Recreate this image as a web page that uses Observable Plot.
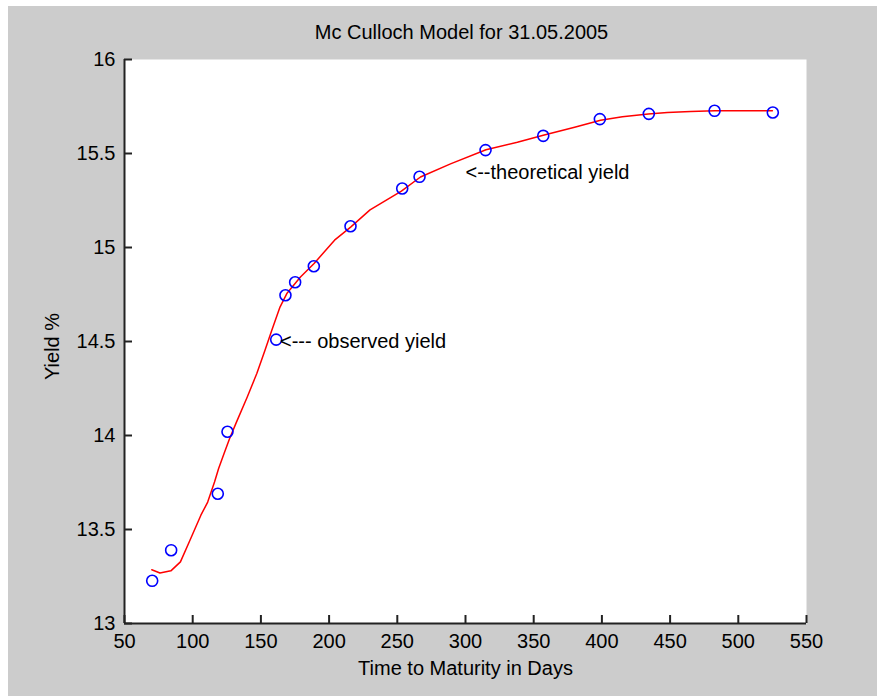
<!DOCTYPE html>
<html>
<head>
<meta charset="utf-8">
<script src="https://cdn.jsdelivr.net/npm/d3@7"></script>
<script src="https://cdn.jsdelivr.net/npm/@observablehq/plot@0.6"></script>
<style>
  html, body { margin: 0; padding: 0; background: #ffffff; }
  #chart { position: absolute; left: 8px; top: 6px; }
</style>
</head>
<body>
<div id="chart"></div>
<script>
// Observed yields of the bills (days to maturity, yield %)
const obsDays  = [70.3, 84.2, 118.4, 125.5, 161.2, 168.0, 175.1, 188.8, 215.7, 253.6, 266.3, 314.7, 357.0, 398.5, 434.4, 482.6, 525.3];
const obsYield = [13.227, 13.39, 13.69, 14.02, 14.51, 14.746, 14.815, 14.90, 15.113, 15.314, 15.376, 15.518, 15.594, 15.683, 15.711, 15.727, 15.718];

// Fitted McCulloch spline curve
const fitDays  = [70, 76, 84, 91, 98, 106, 111, 116, 119, 123, 127, 132, 140, 147, 153, 158, 164, 169, 179, 189, 204, 216, 230, 253, 267, 289, 315, 338, 357, 380, 399, 415, 434, 448, 465, 483, 500, 525];
const fitYield = [13.286, 13.269, 13.28, 13.328, 13.443, 13.576, 13.646, 13.753, 13.824, 13.904, 13.983, 14.07, 14.205, 14.33, 14.454, 14.56, 14.683, 14.755, 14.843, 14.915, 15.039, 15.11, 15.2, 15.30, 15.375, 15.445, 15.52, 15.56, 15.597, 15.64, 15.677, 15.695, 15.71, 15.718, 15.723, 15.727, 15.728, 15.727];

// Axis ticks
const xTicks = [50, 100, 150, 200, 250, 300, 350, 400, 450, 500, 550];
const yTicks = [13, 13.5, 14, 14.5, 15, 15.5, 16];

// Texts
const titleText = "Mc Culloch Model for 31.05.2005";
const xLabel = "Time to Maturity in Days";
const yLabel = "Yield %";
const noteDays  = [164, 300];
const noteYield = [14.5, 15.4];
const noteText  = ["<--- observed yield", "<--theoretical yield"];

const observed = obsDays.map((d, i) => ({days: d, yield: obsYield[i]}));
const fitted = fitDays.map((d, i) => ({days: d, yield: fitYield[i]}));
const notes = noteDays.map((d, i) => ({days: d, yield: noteYield[i], text: noteText[i]}));

const W = 869, H = 690;
const mL = 116, mR = 71, mT = 53, mB = 73;
const plotW = W - mL - mR, plotH = H - mT - mB;
const tickLen = 8;
const axisColor = "#222222";

const chart = Plot.plot({
  width: W,
  height: H,
  marginLeft: mL,
  marginRight: mR,
  marginTop: mT,
  marginBottom: mB,
  style: {
    background: "#cccccc",
    fontFamily: "'Liberation Sans', Arial, sans-serif",
    fontSize: "20px",
    color: "#000000"
  },
  x: {domain: [50, 550]},
  y: {domain: [13, 16]},
  marks: [
    Plot.frame({fill: "white", stroke: null}),
    Plot.line(fitted, {x: "days", y: "yield", stroke: "#ff0000", strokeWidth: 1.5}),
    Plot.dot(observed, {x: "days", y: "yield", r: 5.5, fill: "none", stroke: "#0000ff", strokeWidth: 1.6}),
    Plot.ruleX([50], {stroke: axisColor, strokeWidth: 2}),
    Plot.ruleY([13], {stroke: axisColor, strokeWidth: 2}),
    Plot.tickX(xTicks, {x: d => d, insetTop: plotH - tickLen, stroke: axisColor, strokeWidth: 2}),
    Plot.tickY(yTicks, {y: d => d, insetRight: plotW - tickLen, stroke: axisColor, strokeWidth: 2}),
    Plot.axisX(xTicks, {tickSize: 0, tickPadding: 10, fontSize: 20, tickFormat: d => String(d), label: null}),
    Plot.axisY(yTicks, {tickSize: 0, tickPadding: 9, fontSize: 20, tickFormat: d => String(d), label: null}),
    Plot.text(notes, {x: "days", y: "yield", text: "text", textAnchor: "start", fontSize: 20}),
    Plot.text([titleText], {frameAnchor: "top", lineAnchor: "middle", dy: -27, dx: -4, fontSize: 20}),
    Plot.text([xLabel], {frameAnchor: "bottom", lineAnchor: "middle", dy: 45, fontSize: 20}),
    Plot.text([yLabel], {frameAnchor: "left", textAnchor: "middle", lineAnchor: "middle", dx: -72, dy: 5, rotate: -90, fontSize: 20})
  ]
});

document.getElementById("chart").appendChild(chart);
</script>
</body>
</html>
